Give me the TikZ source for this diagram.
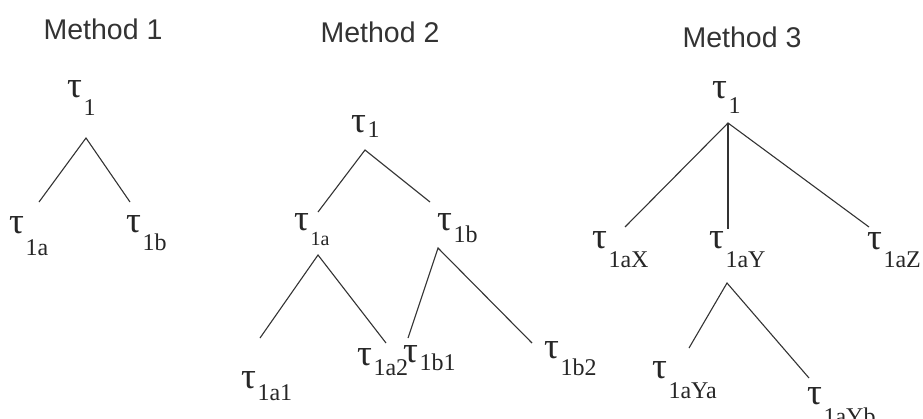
\documentclass[tikz,border=0pt]{standalone}
\usepackage{fontspec}
\setmainfont{Liberation Serif}
\newfontfamily\titlefont{Liberation Sans}
\newcommand\tsb[3][24]{{\fontsize{37}{37}\selectfont τ}\kern1.5pt\raisebox{-#2pt}{\fontsize{#1}{#1}\selectfont #3}}
\tikzset{
  lbl/.style={inner sep=0pt, anchor=base west, font=\fontsize{32}{32}\selectfont, text=black!85},
  ttl/.style={inner sep=0pt, anchor=base, font=\titlefont\fontsize{28.5}{28.5}\selectfont, text=black!80},
  edge/.style={draw=black!80, line width=1.1pt}
}
\begin{document}
\begin{tikzpicture}[x=1pt,y=-1pt]
\useasboundingbox (0,0) rectangle (923,418);
% ---------- Method 1
\node[ttl] (t1) at (103,39) {Method 1};
\node[lbl] (a1) at (67,97) {\tsb{18}{1}};
\node[lbl] (a1a) at (9,233) {\tsb{22}{1a}};
\node[lbl] (a1b) at (126,232) {\tsb{18}{1b}};
\coordinate (p1) at (86,138);
\coordinate (p1l) at (39,202);
\coordinate (p1r) at (130,202);
\draw[edge] (p1l) -- (p1) -- (p1r);
% ---------- Method 2
\node[ttl] (t2) at (380,42) {Method 2};
\node[lbl] (b1) at (351,132) {\tsb{5}{1}};
\node[lbl] (b1a) at (294,230) {\tsb[20]{15}{1a}};
\node[lbl] (b1b) at (437,230) {\tsb{12}{1b}};
\node[lbl] (b1a1) at (241,388) {\tsb{12}{1a1}};
\node[lbl] (b1a2) at (357,365) {\tsb{10}{1a2}};
\node[lbl] (b1b1) at (403,362) {\tsb{8}{1b1}};
\node[lbl] (b1b2) at (544,358) {\tsb{17}{1b2}};
\coordinate (p2) at (365,150);
\coordinate (p2l) at (318,212);
\coordinate (p2r) at (430,202);
\draw[edge] (p2l) -- (p2) -- (p2r);
\coordinate (p2a) at (318,255);
\coordinate (p2al) at (260,338);
\coordinate (p2ar) at (386,343);
\draw[edge] (p2al) -- (p2a) -- (p2ar);
\coordinate (p2b) at (438,248);
\coordinate (p2bl) at (408,338);
\coordinate (p2br) at (532,343);
\draw[edge] (p2bl) -- (p2b) -- (p2br);
% ---------- Method 3
\node[ttl] (t3) at (742,47) {Method 3};
\node[lbl] (c1) at (712,98) {\tsb{15}{1}};
\node[lbl] (c1x) at (592,248) {\tsb{19}{1aX}};
\node[lbl] (c1y) at (709,248) {\tsb{19}{1aY}};
\node[lbl] (c1z) at (867,249) {\tsb{18}{1aZ}};
\node[lbl] (c1ya) at (652,378) {\tsb{20}{1aYa}};
\node[lbl] (c1yb) at (807,404) {\tsb{20}{1aYb}};
\coordinate (p3) at (728,123);
\coordinate (p3l) at (625,227);
\coordinate (p3m) at (728,229);
\coordinate (p3r) at (869,227);
\draw[edge] (p3l) -- (p3) -- (p3r);
\draw[edge] (p3) -- (p3m);
\coordinate (p3y) at (727,283);
\coordinate (p3yl) at (689,348);
\coordinate (p3yr) at (809,378);
\draw[edge] (p3yl) -- (p3y) -- (p3yr);
\end{tikzpicture}
\end{document}
